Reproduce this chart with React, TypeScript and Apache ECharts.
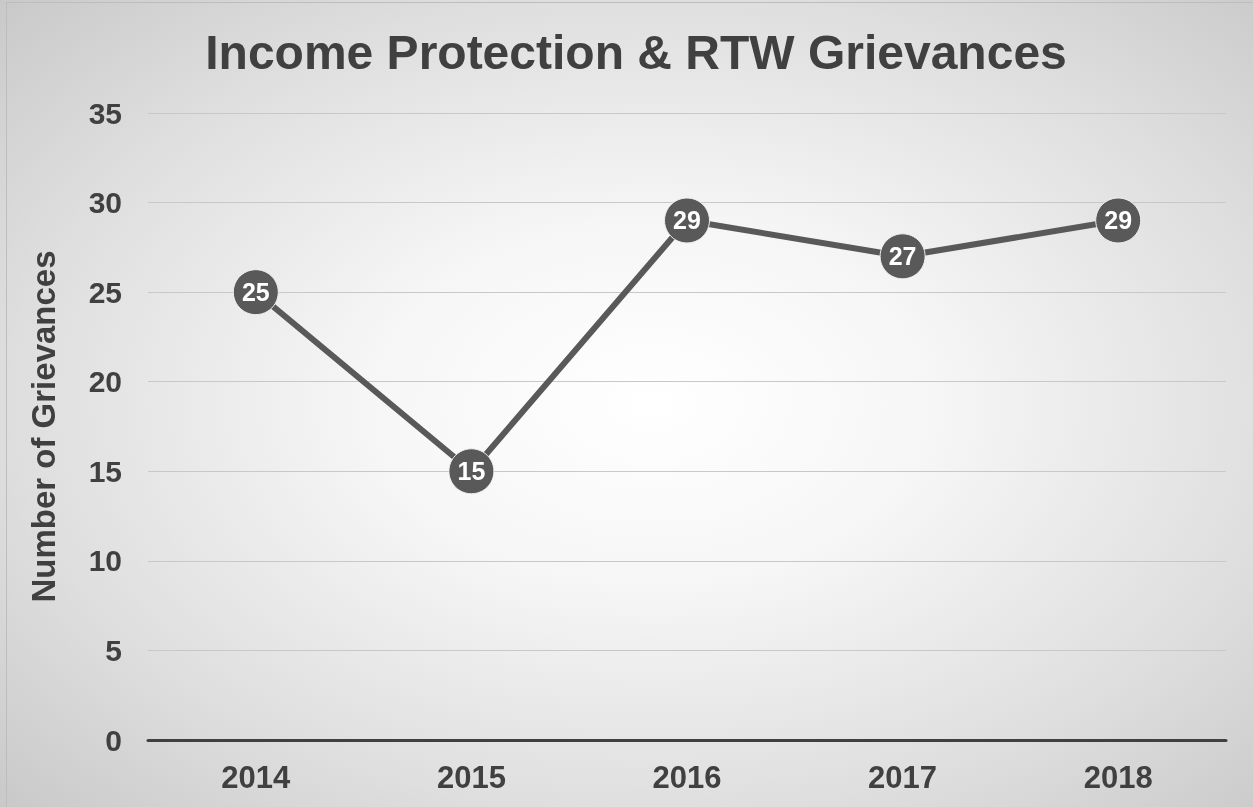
import React, { useEffect, useRef } from "react";
import * as echarts from "echarts";

const years = ["2014", "2015", "2016", "2017", "2018"];
const grievances = [25, 15, 29, 27, 29];
const yTicks = { min: 0, max: 35, interval: 5 };

const FONT = "Liberation Sans, Arial, sans-serif";

export default function App() {
  const ref = useRef<HTMLDivElement>(null);
  useEffect(() => {
    const chart = echarts.init(ref.current!, null, { renderer: "svg" });
    chart.setOption({
      animation: false,
      backgroundColor: "transparent",
      textStyle: { fontFamily: FONT },
      title: {
        text: "Income Protection & RTW Grievances",
        left: 631,
        textAlign: "center",
        top: 23,
        textStyle: { fontSize: 48, fontWeight: 700, color: "#404040", fontFamily: FONT },
      },
      grid: { left: 148, right: 27, top: 113, bottom: 67, containLabel: false },
      xAxis: {
        type: "category",
        data: years,
        boundaryGap: true,
        axisLine: { lineStyle: { color: "#404040", width: 3 } },
        axisTick: { show: false },
        axisLabel: { fontSize: 31, fontWeight: 700, color: "#404040", margin: 22, fontFamily: FONT },
      },
      yAxis: {
        type: "value",
        min: yTicks.min,
        max: yTicks.max,
        interval: yTicks.interval,
        name: "Number of Grievances",
        nameLocation: "middle",
        nameGap: 88,
        nameTextStyle: { fontSize: 33, fontWeight: "bold", color: "#404040", fontFamily: FONT },
        axisLine: { show: false },
        axisTick: { show: false },
        axisLabel: { fontSize: 30, fontWeight: 700, color: "#404040", margin: 26, fontFamily: FONT },
        splitLine: { lineStyle: { color: "#c8c8c8", width: 1 } },
      },
      series: [
        {
          type: "line",
          data: grievances,
          symbol: "circle",
          symbolSize: 45,
          lineStyle: { color: "#595959", width: 6 },
          itemStyle: { color: "#595959", borderColor: "#f0f0f0", borderWidth: 1 },
          label: {
            show: true,
            position: "inside",
            color: "#ffffff",
            fontSize: 25,
            fontWeight: 700,
            fontFamily: FONT,
          },
          z: 3,
        },
      ],
    });
    return () => chart.dispose();
  }, []);
  return (
    <div
      style={{
        position: "fixed",
        left: 0,
        top: 0,
        width: 1253,
        height: 807,
        background: "radial-gradient(ellipse 75% 75% at 52% 50%, #ffffff 0%, #f6f6f6 30%, #dedede 68%, #c6c6c6 100%)",
      }}
    >
      <div
        style={{
          position: "absolute",
          left: 6,
          top: 2,
          width: 1247,
          height: 805,
          borderTop: "1px solid #bdbdbd",
          borderLeft: "1px solid #bdbdbd",
          boxSizing: "border-box",
        }}
      />
      <div ref={ref} style={{ position: "absolute", left: 0, top: 0, width: 1253, height: 807 }} />
    </div>
  );
}
